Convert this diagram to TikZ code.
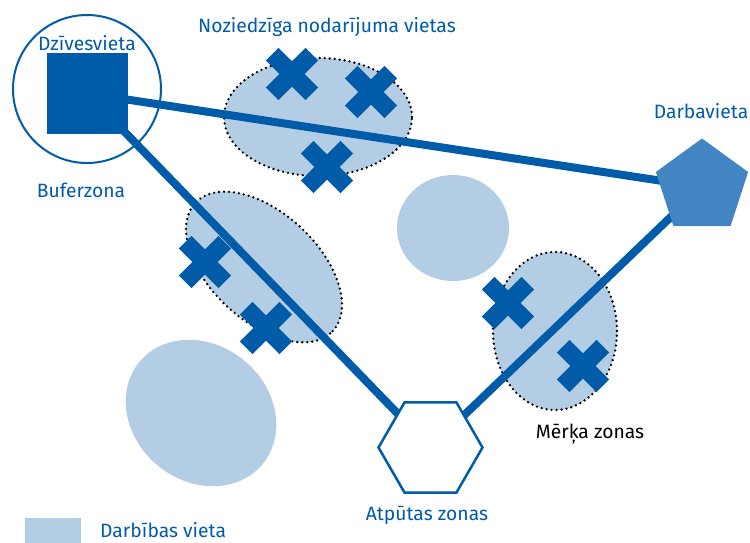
\documentclass[tikz,border=0pt]{standalone}
\usepackage{fontspec}
\setmainfont{Fira Sans}
\usetikzlibrary{shapes.geometric}
\definecolor{dblue}{HTML}{005CA9}
\definecolor{lblue}{HTML}{B3CDE4}
\definecolor{mblue}{HTML}{4285C3}
\pgfdeclarelayer{zones}
\pgfdeclarelayer{links}
\pgfsetlayers{zones,links,main}
\tikzset{
  lbl/.style={text=dblue, font=\fontsize{19.3}{21}\selectfont, inner sep=0pt},
  zone/.style={ellipse, fill=lblue, inner sep=0pt},
  dotzone/.style={zone, draw=black, line width=2.6pt, dash pattern=on 0pt off 5pt, line cap=round},
  link/.style={draw=dblue, line width=8pt},
  xbar/.style={rectangle, fill=dblue, minimum width=56pt, minimum height=18pt, inner sep=0pt},
}
\begin{document}
\begin{tikzpicture}[x=1pt,y=-1pt]
\useasboundingbox (0,0) rectangle (750,542);
% zones
\begin{pgfonlayer}{zones}
\node[dotzone, minimum width=188pt, minimum height=118pt] (z1) at (318,117) {};
\node[dotzone, minimum width=188pt, minimum height=108pt, rotate=-43] (z2) at (264,267) {};
\node[dotzone, minimum width=124pt, minimum height=158pt] (z3) at (555,331) {};
\node[zone, minimum width=112pt, minimum height=106pt] (z4) at (453,228) {};
\node[zone, minimum width=160pt, minimum height=136pt, rotate=-40] (z5) at (201,413) {};
\end{pgfonlayer}
% buffer circle
\node[circle, draw=dblue, line width=2pt, minimum size=148pt, inner sep=0pt] (buf) at (87,89) {};
% home square
\node[rectangle, fill=dblue, minimum size=81pt, inner sep=0pt] (home) at (87.5,93.5) {};
% work pentagon
\node[regular polygon, regular polygon sides=5, fill=mblue, minimum size=97pt, inner sep=0pt] (work) at (702,187) {};
% leisure hexagon
\node[regular polygon, regular polygon sides=6, draw=dblue, fill=white, line width=2.5pt, minimum size=104pt, inner sep=0pt] (leis) at (430.5,447.5) {};
% links
\begin{pgfonlayer}{links}
\draw[link] (home.center) -- (work.center);
\draw[link] (home.center) -- (leis.center);
\draw[link] (leis.center) -- (work.center);
\end{pgfonlayer}
% crosses
\foreach \n/\p in {a/{(292,74)}, b/{(371,92)}, c/{(327,167)}, d/{(205,262)}, e/{(266,328)}, f/{(508,303)}, g/{(583,366)}}{
  \node[xbar, rotate=45] (x\n1) at \p {};
  \node[xbar, rotate=-45] (x\n2) at \p {};
}
% labels
\node[lbl] (t1) at (87,43) {Dzīvesvieta};
\node[lbl] (t2) at (81,190) {Buferzona};
\node[lbl] (t3) at (327,27) {Noziedzīga nodarījuma vietas};
\node[lbl] (t4) at (701,111) {Darbavieta};
\node[lbl] (t5) at (427,515) {Atpūtas zonas};
\node[lbl, text=black] (t6) at (590,434) {Mērķa zonas};
\node[rectangle, fill=lblue, minimum width=56pt, minimum height=25pt, inner sep=0pt, anchor=north west] (leg) at (25,518) {};
\node[lbl, anchor=base west] (t7) at (100,537) {Darbības vieta};
\end{tikzpicture}
\end{document}
